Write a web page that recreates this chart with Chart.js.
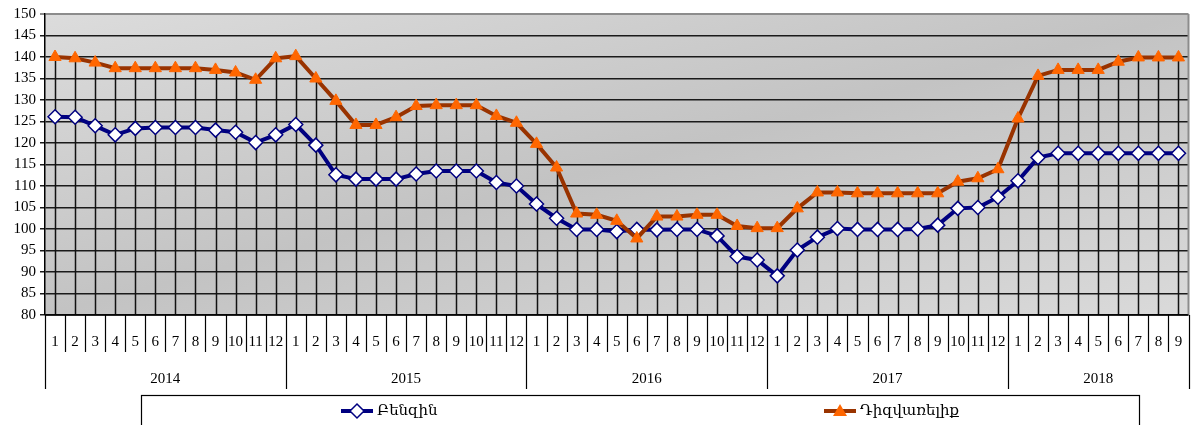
<!DOCTYPE html>
<html>
<head>
<meta charset="utf-8">
<script src="https://cdn.jsdelivr.net/npm/chart.js@4/dist/chart.umd.min.js"></script>
<style>
  html, body { margin: 0; padding: 0; background: #fff; }
  #wrap { width: 1197px; height: 425px; position: relative; }
</style>
</head>
<body>
<div id="wrap"><canvas id="chart"></canvas></div>
<script>
// ─── Data ─────────────────────────────────────────────────
const years         = ['2014', '2015', '2016', '2017', '2018'];
const monthsPerYear = [12, 12, 12, 12, 9];
const seriesNames   = ['Բենզին', 'Դիզվառելիք'];

const benzin = [
    126.1, 126.0, 124.0, 121.9, 123.4, 123.6, 123.6, 123.6, 123.0, 122.5, 120.1, 121.9,
    124.3, 119.5, 112.6, 111.6, 111.6, 111.6, 112.8, 113.5, 113.5, 113.5, 110.8, 110.0,
    105.8, 102.5,  99.9,  99.9,  99.4,  99.9,  99.8,  99.9,  99.9,  98.4,  93.6,  92.8,
     89.1,  95.1,  98.1, 100.1,  99.9,  99.9,  99.9, 100.0, 100.9, 104.8, 105.0, 107.4,
    111.2, 116.6, 117.6, 117.6, 117.6, 117.6, 117.6, 117.6, 117.6,
];
const diesel = [
    140.0, 139.7, 138.7, 137.4, 137.4, 137.4, 137.4, 137.4, 137.0, 136.4, 134.7, 139.7,
    140.2, 135.0, 129.8, 124.2, 124.2, 126.0, 128.6, 128.8, 128.8, 128.8, 126.3, 124.7,
    119.8, 114.3, 103.6, 103.3, 101.9,  97.8, 102.9, 102.9, 103.3, 103.3, 100.7, 100.2,
    100.2, 104.8, 108.5, 108.5, 108.3, 108.3, 108.3, 108.3, 108.3, 111.0, 111.8, 113.9,
    125.7, 135.6, 137.0, 137.0, 137.0, 138.9, 139.9, 139.9, 139.9,
];

const yMin = 80, yMax = 150, yStep = 5;

// month labels + year index for each point
const monthLabels = [];
const yearOf = [];
monthsPerYear.forEach((n, yi) => {
    for (let m = 1; m <= n; m++) { monthLabels.push(String(m)); yearOf.push(yi); }
});

const FONT = "'Liberation Serif', 'DejaVu Serif', serif";
const BLUE = '#000080';
const BROWN = '#993300';
const ORANGE = '#FF6600';

// ─── Plugins ──────────────────────────────────────────────
const plotBg = {
    id: 'plotBg',
    beforeDraw(chart) {
        const { ctx, chartArea: a } = chart;
        ctx.save();
        // diagonal gradient in normalised plot space
        ctx.translate(a.left, a.top);
        ctx.scale(a.right - a.left, a.bottom - a.top);
        const g = ctx.createLinearGradient(0, 0, 1, 1);
        g.addColorStop(0, '#dcdcdc');
        g.addColorStop(0.5, '#c3c3c3');
        g.addColorStop(1, '#dadada');
        ctx.fillStyle = g;
        ctx.fillRect(0, 0, 1, 1);
        ctx.restore();
    }
};

const dropLines = {
    id: 'dropLines',
    beforeDatasetsDraw(chart) {
        const { ctx, chartArea: a, scales: { x, y } } = chart;
        ctx.save();
        ctx.strokeStyle = '#111';
        ctx.lineWidth = 1.5;
        monthLabels.forEach((_, i) => {
            const top = Math.max(benzin[i], diesel[i]);
            const px = Math.round(x.getPixelForValue(i)) + 0.5;
            ctx.beginPath();
            ctx.moveTo(px, y.getPixelForValue(top));
            ctx.lineTo(px, a.bottom);
            ctx.stroke();
        });
        // right border of plot
        ctx.strokeStyle = '#8c8c8c';
        ctx.lineWidth = 2;
        ctx.beginPath();
        ctx.moveTo(a.right, a.top);
        ctx.lineTo(a.right, a.bottom);
        ctx.stroke();
        ctx.restore();
    }
};

const xAxisLabels = {
    id: 'xAxisLabels',
    afterDraw(chart) {
        const { ctx, chartArea: a, scales: { x } } = chart;
        const b = a.bottom;
        ctx.save();
        ctx.strokeStyle = '#000';
        ctx.lineWidth = 1.2;
        ctx.fillStyle = '#000';
        ctx.font = '15px ' + FONT;
        ctx.textAlign = 'center';
        ctx.textBaseline = 'middle';

        const half = (x.getPixelForValue(1) - x.getPixelForValue(0)) / 2;
        const edges = [];
        monthLabels.forEach((lab, i) => {
            const px = x.getPixelForValue(i);
            ctx.fillText(lab, px, b + 27);
            edges.push(px - half);
        });
        edges.push(x.getPixelForValue(monthLabels.length - 1) + half);

        edges.forEach((ex, i) => {
            const isYear = i === 0 || i === monthLabels.length || yearOf[i] !== yearOf[i - 1];
            const px = Math.round(ex) + 0.5;
            ctx.beginPath();
            ctx.moveTo(px, b);
            ctx.lineTo(px, b + (isYear ? 74 : 37));
            ctx.stroke();
        });

        // year labels
        let start = 0;
        years.forEach((yr, yi) => {
            const end = start + monthsPerYear[yi] - 1;
            const cx = (x.getPixelForValue(start) + x.getPixelForValue(end)) / 2;
            ctx.fillText(yr, cx, b + 64);
            start = end + 1;
        });

        // axis line
        ctx.lineWidth = 1.5;
        ctx.beginPath();
        ctx.moveTo(a.left, b);
        ctx.lineTo(a.right, b);
        ctx.stroke();

        // legend box
        ctx.lineWidth = 1.2;
        ctx.strokeRect(141.5, 395.5, 998, 40);

        // legend entries
        const drawEntry = (x0, color, shape, label) => {
            const cy = 411;
            ctx.strokeStyle = color;
            ctx.lineWidth = 4;
            ctx.beginPath();
            ctx.moveTo(x0, cy);
            ctx.lineTo(x0 + 32, cy);
            ctx.stroke();
            const cx = x0 + 16;
            ctx.beginPath();
            if (shape === 'diamond') {
                ctx.moveTo(cx, cy - 7); ctx.lineTo(cx + 7, cy);
                ctx.lineTo(cx, cy + 7); ctx.lineTo(cx - 7, cy);
                ctx.closePath();
                ctx.fillStyle = '#fff';
                ctx.fill();
                ctx.lineWidth = 1.5;
                ctx.strokeStyle = color;
                ctx.stroke();
            } else {
                ctx.moveTo(cx, cy - 7); ctx.lineTo(cx + 7, cy + 5);
                ctx.lineTo(cx - 7, cy + 5);
                ctx.closePath();
                ctx.fillStyle = ORANGE;
                ctx.fill();
            }
            ctx.fillStyle = '#000';
            ctx.textAlign = 'left';
            ctx.font = '15px ' + FONT;
            ctx.fillText(label, x0 + 36, cy);
        };
        drawEntry(341, BLUE, 'diamond', seriesNames[0]);
        drawEntry(824, BROWN, 'triangle', seriesNames[1]);
        ctx.restore();
    }
};

// ─── Chart ────────────────────────────────────────────────
new Chart(document.getElementById('chart'), {
    type: 'line',
    data: {
        labels: monthLabels,
        datasets: [
            {
                label: seriesNames[0],
                data: benzin,
                order: 1,
                borderColor: BLUE,
                borderWidth: 4,
                pointStyle: 'rectRot',
                pointRadius: 7,
                pointBackgroundColor: '#fff',
                pointBorderColor: BLUE,
                pointBorderWidth: 1.5,
                tension: 0,
            },
            {
                label: seriesNames[1],
                data: diesel,
                order: 0,
                borderColor: BROWN,
                borderWidth: 4,
                pointStyle: 'triangle',
                pointRadius: 7,
                pointBackgroundColor: ORANGE,
                pointBorderColor: ORANGE,
                pointBorderWidth: 1,
                tension: 0,
            },
        ]
    },
    options: {
        responsive: true,
        maintainAspectRatio: false,
        animation: false,
        layout: { padding: { top: 14, right: 5, left: 0, bottom: 0 } },
        plugins: { legend: { display: false }, tooltip: { enabled: false } },
        scales: {
            x: {
                offset: true,
                grid: { display: false },
                border: { display: false },
                ticks: { display: false },
                afterFit: s => { s.height = 110; },
            },
            y: {
                min: yMin,
                max: yMax,
                ticks: {
                    stepSize: yStep,
                    color: '#000',
                    padding: 4,
                    font: { family: FONT, size: 15 },
                },
                grid: {
                    color: c => c.tick && c.tick.value === yMax ? '#8c8c8c' : '#1a1a1a',
                    lineWidth: c => c.tick && c.tick.value === yMax ? 2 : 1.5,
                    tickLength: 5,
                },
                border: { color: '#000', width: 1.5 },
                afterFit: s => { s.width = 45; },
            }
        }
    },
    plugins: [plotBg, dropLines, xAxisLabels]
});
</script>
</body>
</html>
